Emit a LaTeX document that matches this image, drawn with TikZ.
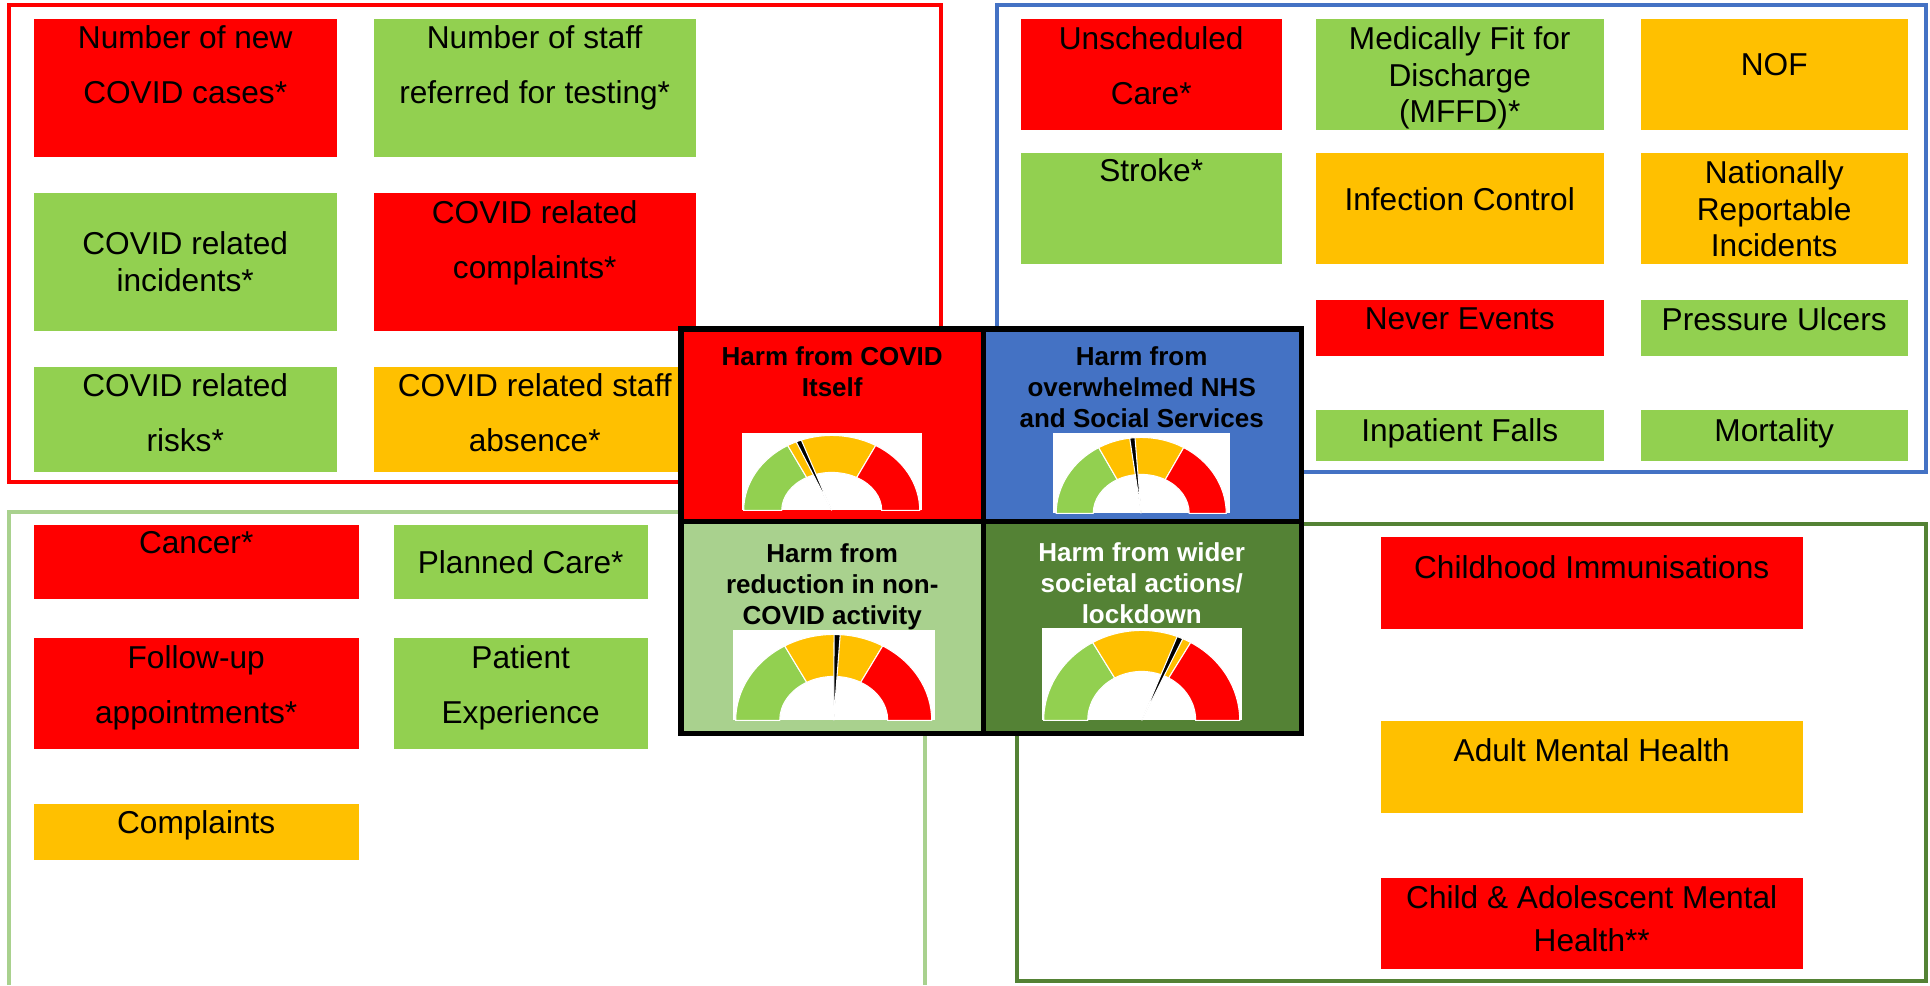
\documentclass[tikz,border=0pt]{standalone}
\usepackage{fontspec}
\setmainfont{Liberation Sans}
\usetikzlibrary{positioning}
\definecolor{cred}{HTML}{FF0000}
\definecolor{cgreen}{HTML}{92D050}
\definecolor{camber}{HTML}{FFC000}
\definecolor{cblue}{HTML}{4472C4}
\definecolor{clight}{HTML}{A9D18E}
\definecolor{cdark}{HTML}{548235}

% coloured box from its top-left and bottom-right corners (in px)
\newcommand{\tile}[6]{%
  \node[tile, fill=#6, minimum width={(#4-#2)*0.1mm},
        minimum height={(#5-#3)*0.1mm}] (#1) at (#2,-#3) {};}

% half-donut dial on the bottom edge of a white backdrop node
\newcommand{\gauge}[6]{%
  \begin{scope}[shift={(#1.south)}]
    \foreach \a/\b/\c in {180/120/cgreen, 120/60/camber, 60/0/cred}{
      \filldraw[fill=\c, draw=white, line width=0.3pt]
        (\a:#2 and #3) arc[start angle=\a, end angle=\b, x radius=#2, y radius=#3]
        -- (\b:#4 and #5) arc[start angle=\b, end angle=\a, x radius=#4, y radius=#5]
        -- cycle;
    }
    \filldraw[fill=black, draw=white, line width=0.3pt]
      (0,0) -- ({#6+1.8}:#2 and #3) -- ({#6-1.8}:#2 and #3) -- cycle;
  \end{scope}}

\begin{document}
\begin{tikzpicture}[
    x=0.1mm, y=0.1mm,
    tile/.style={rectangle, draw=none, inner sep=0pt, anchor=north west},
    txt/.style={font=\fontsize{9}{15.6}\selectfont, align=center,
                inner sep=0pt, anchor=north},
    txtn/.style={txt, font=\fontsize{9}{10.4}\selectfont},
    ttl/.style={font=\bfseries\fontsize{7.4}{8.8}\selectfont, align=center,
                inner sep=0pt, anchor=north},
    frame/.style={line width=1.2pt},
    grid/.style={line width=1.5pt, black},
]
\fill[white] (0,0) rectangle (1930,-985);
\useasboundingbox (0,0) rectangle (1930,-985);

% the four frames
\draw[frame, cred] (9,-5) rectangle (941,-482);
\draw[frame, cblue] (997,-5) rectangle (1926,-472);
\draw[frame, clight] (9,-985) -- (9,-512) -- (925,-512) -- (925,-985);
\draw[frame, cdark] (1017,-524) rectangle (1926,-981);

% harm from COVID itself
\tile{ncases}{33}{18}{336}{156}{cred}
\tile{nstaff}{373}{18}{695}{156}{cgreen}
\tile{cincid}{33}{192}{336}{330}{cgreen}
\tile{ccompl}{373}{192}{695}{330}{cred}
\tile{crisks}{33}{366}{336}{471}{cgreen}
\tile{cabsence}{373}{366}{695}{471}{camber}
\node[txt] (tncases) at (ncases.north |- 0,-25) {Number of new\\COVID cases*};
\node[txt] (tnstaff) at (nstaff.north |- 0,-25) {Number of staff\\referred for testing*};
\node[txtn] (tcincid) at (cincid.north |- 0,-231) {COVID related\\incidents*};
\node[txt] (tccompl) at (ccompl.north |- 0,-200) {COVID related\\complaints*};
\node[txt] (tcrisks) at (crisks.north |- 0,-373) {COVID related\\risks*};
\node[txt] (tcabsence) at (cabsence.north |- 0,-373) {COVID related staff\\absence*};

% overwhelmed NHS and social services
\tile{unsched}{1020}{18}{1281}{129}{cred}
\tile{mffd}{1315}{18}{1603}{129}{cgreen}
\tile{nof}{1640}{18}{1907}{129}{camber}
\tile{stroke}{1020}{152}{1281}{263}{cgreen}
\tile{infect}{1315}{152}{1603}{263}{camber}
\tile{nri}{1640}{152}{1907}{263}{camber}
\tile{never}{1315}{299}{1603}{355}{cred}
\tile{pressure}{1640}{299}{1907}{355}{cgreen}
\tile{falls}{1315}{409}{1603}{460}{cgreen}
\tile{mortality}{1640}{409}{1907}{460}{cgreen}
\node[txt] (tunsched) at (unsched.north |- 0,-26) {Unscheduled\\Care*};
\node[txtn] (tmffd) at (mffd.north |- 0,-26) {Medically Fit for\\Discharge\\(MFFD)*};
\node[txt] (tnof) at (nof.north |- 0,-53) {NOF};
\node[txt] (tstroke) at (stroke.north |- 0,-158) {Stroke*};
\node[txt] (tinfect) at (infect.north |- 0,-187) {Infection Control};
\node[txtn] (tnri) at (nri.north |- 0,-160) {Nationally\\Reportable\\Incidents};
\node[txt] (tnever) at (never.north |- 0,-307) {Never Events};
\node[txt] (tpressure) at (pressure.north |- 0,-307) {Pressure Ulcers};
\node[txt] (tfalls) at (falls.north |- 0,-418) {Inpatient Falls};
\node[txt] (tmortality) at (mortality.north |- 0,-418) {Mortality};

% reduction in non-COVID activity
\tile{cancer}{33}{524}{358}{598}{cred}
\tile{planned}{393}{524}{647}{598}{cgreen}
\tile{followup}{33}{637}{358}{748}{cred}
\tile{patexp}{393}{637}{647}{748}{cgreen}
\tile{complaints}{33}{803}{358}{859}{camber}
\node[txt] (tcancer) at (cancer.north |- 0,-531) {Cancer*};
\node[txt] (tplanned) at (planned.north |- 0,-550) {Planned Care*};
\node[txt] (tfollowup) at (followup.north |- 0,-645) {Follow-up\\appointments*};
\node[txt] (tpatexp) at (patexp.north |- 0,-645) {Patient\\Experience};
\node[txt] (tcomplaints) at (complaints.north |- 0,-810) {Complaints};

% wider societal actions
\tile{childimm}{1380}{536}{1802}{628}{cred}
\tile{adultmh}{1380}{720}{1802}{812}{camber}
\tile{camh}{1380}{877}{1802}{968}{cred}
\node[txt] (tchildimm) at (childimm.north |- 0,-555) {Childhood Immunisations};
\node[txt] (tadultmh) at (adultmh.north |- 0,-738) {Adult Mental Health};
\node[txt, font=\fontsize{9}{12.2}\selectfont] (tcamh) at (camh.north |- 0,-885)
    {Child \& Adolescent Mental\\Health**};

% the central dial block
\tile{qcovid}{681}{329}{982}{520}{cred}
\tile{qnhs}{982}{329}{1300}{520}{cblue}
\tile{qcare}{681}{520}{982}{732}{clight}
\tile{qsociety}{982}{520}{1300}{732}{cdark}
\node[ttl] (hcovid) at (qcovid.north |- 0,-346) {Harm from COVID\\Itself};
\node[ttl] (hnhs) at (qnhs.north |- 0,-346) {Harm from\\overwhelmed NHS\\and Social Services};
\node[ttl] (hcare) at (qcare.north |- 0,-543) {Harm from\\reduction in non-\\COVID activity};
\node[ttl, text=white] (hsociety) at (qsociety.north |- 0,-542)
    {Harm from wider\\societal actions/\\lockdown};

\tile{gcovid}{741}{432}{921}{509}{white}
\tile{gnhs}{1052}{432}{1229}{512}{white}
\tile{gcare}{732}{629}{934}{719}{white}
\tile{gsociety}{1041}{627}{1241}{719}{white}
\gauge{gcovid}{88}{75}{50}{38}{112}
\gauge{gnhs}{85}{76}{48}{39}{96}
\gauge{gcare}{98}{86}{54}{44}{88}
\gauge{gsociety}{98}{90}{54}{49}{67}

\draw[grid] (qcovid.north west) rectangle (qsociety.south east);
\draw[grid] (qcovid.north east) -- (qcare.south east);
\draw[grid] (qcovid.south west) -- (qnhs.south east);
\end{tikzpicture}
\end{document}
